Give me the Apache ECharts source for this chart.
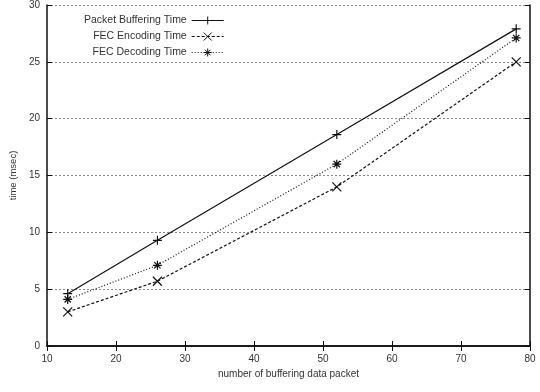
<!DOCTYPE html>
<html>
<head>
<meta charset="utf-8">
<script src="https://cdn.jsdelivr.net/npm/echarts@6/dist/echarts.min.js"></script>
<style>
  html, body { margin: 0; padding: 0; background: #fff; }
  #chart { width: 540px; height: 392px; }
</style>
</head>
<body>
<div id="chart"></div>
<script>
const packets = [13, 26, 52, 78];
const bufferingTime = [4.6, 9.3, 18.6, 27.9];
const encodingTime = [3.0, 5.7, 14.0, 25.0];
const decodingTime = [4.1, 7.1, 16.0, 27.1];
const seriesNames = ['Packet Buffering Time', 'FEC Encoding Time', 'FEC Decoding Time'];

const plusSym = 'path://M5,0L5,10M0,5L10,5';
const crossSym = 'path://M0,0L10,10M10,0L0,10';
const starSym = 'path://M5,0L5,10M0,5L10,5M1.5,1.5L8.5,8.5M8.5,1.5L1.5,8.5';

const font = 'Liberation Sans, Arial, sans-serif';
const pairs = vals => packets.map((x, i) => [x, vals[i]]);

const chart = echarts.init(document.getElementById('chart'));

const mkSeries = (name, vals, sym, dash) => ({
  name: name,
  type: 'line',
  data: pairs(vals),
  symbol: sym,
  symbolSize: 9,
  showSymbol: true,
  lineStyle: { color: '#111', width: 1.2, type: dash },
  itemStyle: { color: '#111', borderColor: '#111', borderWidth: 1.2 },
  emphasis: { disabled: true },
  animation: false
});

const option = {
  backgroundColor: '#fff',
  animation: false,
  textStyle: { fontFamily: font },
  grid: { left: 40, right: 10, top: 5, bottom: 46 },
  legend: {
    orient: 'vertical',
    left: 79,
    top: 10,
    align: 'right',
    itemWidth: 32,
    itemHeight: 10,
    itemGap: 5,
    textStyle: { fontFamily: font, fontSize: 10.5, color: '#333' },
    itemStyle: { borderWidth: 1 },
    lineStyle: { width: 1 },
    data: seriesNames
  },
  xAxis: [{
    type: 'value',
    min: 10, max: 80, interval: 10,
    name: 'number of buffering data packet',
    nameLocation: 'middle',
    nameGap: 22,
    nameTextStyle: { fontFamily: font, fontSize: 10, color: '#333' },
    axisLine: { lineStyle: { color: '#111', width: 1.5 } },
    axisTick: { inside: true, length: 5, lineStyle: { color: '#111' } },
    axisLabel: { fontFamily: font, fontSize: 10, color: '#333', margin: 8 },
    splitLine: { show: false }
  }, {
    type: 'value',
    position: 'top',
    min: 10, max: 80, interval: 10,
    axisLine: { lineStyle: { color: '#111', width: 1.5 } },
    axisTick: { inside: true, length: 5, lineStyle: { color: '#111' } },
    axisLabel: { show: false },
    splitLine: { show: false }
  }],
  yAxis: [{
    type: 'value',
    min: 0, max: 30, interval: 5,
    name: 'time (msec)',
    nameLocation: 'middle',
    nameGap: 27,
    nameTextStyle: { fontFamily: font, fontSize: 9.5, color: '#333' },
    axisLine: { show: true, lineStyle: { color: '#111', width: 1.5 } },
    axisTick: { show: true, inside: true, length: 5, lineStyle: { color: '#111' } },
    axisLabel: { fontFamily: font, fontSize: 10, color: '#333', margin: 7 },
    splitLine: { show: true, lineStyle: { color: '#888', width: 1, type: [2, 2] } }
  }, {
    type: 'value',
    position: 'right',
    min: 0, max: 30, interval: 5,
    axisLine: { show: true, lineStyle: { color: '#111', width: 1.5 } },
    axisTick: { show: true, inside: true, length: 5, lineStyle: { color: '#111' } },
    axisLabel: { show: false },
    splitLine: { show: false }
  }],
  series: [
    mkSeries(seriesNames[0], bufferingTime, plusSym, 'solid'),
    mkSeries(seriesNames[1], encodingTime, crossSym, [3, 2]),
    mkSeries(seriesNames[2], decodingTime, starSym, [1, 2])
  ]
};

chart.setOption(option);
</script>
</body>
</html>
